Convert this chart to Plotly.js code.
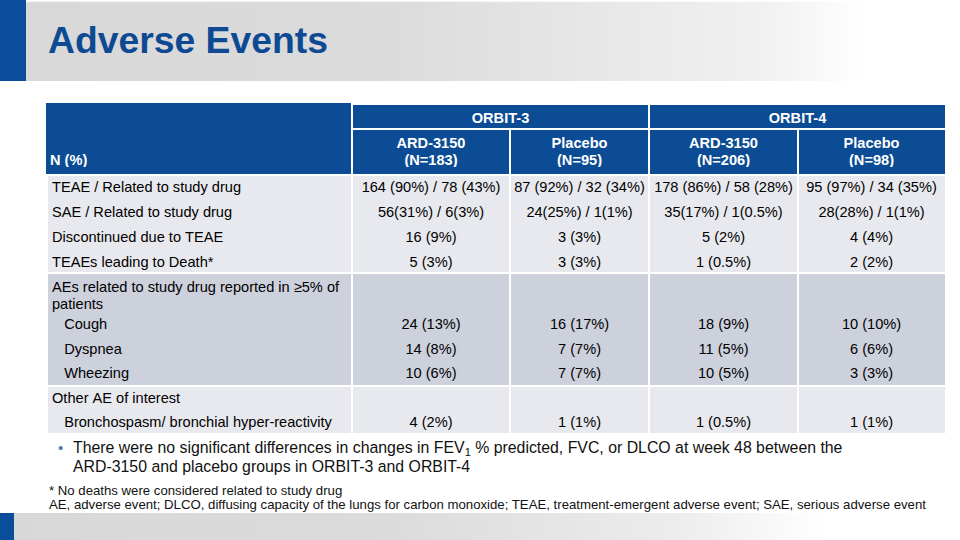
<!DOCTYPE html>
<html>
<head>
<meta charset="utf-8">
<script src="https://cdn.plot.ly/plotly-3.0.1.min.js"></script>
<style>
  html, body { margin: 0; padding: 0; background: #ffffff; }
  #chart { width: 960px; height: 540px; }
</style>
</head>
<body>
<div id="chart"></div>
<script>
// ------------------------------------------------------------------
// DATA
// ------------------------------------------------------------------
const slideTitle = 'Adverse Events';
const studies = ['ORBIT-3', 'ORBIT-4'];
const armNames = ['ARD-3150', 'Placebo', 'ARD-3150', 'Placebo'];
const armCounts = ['(N=183)', '(N=95)', '(N=206)', '(N=98)'];
const stubHeader = 'N (%)';

const rowLabels = [
  'TEAE / Related to study drug',
  'SAE / Related to study drug',
  'Discontinued due to TEAE',
  'TEAEs leading to Death*',
  'AEs related to study drug reported in \u22655% of<br>patients',
  'Cough',
  'Dyspnea',
  'Wheezing',
  'Other AE of interest',
  'Bronchospasm/ bronchial hyper-reactivity'
];
const rowIsSubItem = [false, false, false, false, false, true, true, true, false, true];

const orbit3Ard = ['164 (90%) / 78 (43%)', '56(31%) / 6(3%)', '16 (9%)', '5 (3%)', '', '24 (13%)', '14 (8%)', '10 (6%)', '', '4 (2%)'];
const orbit3Pbo = ['87 (92%) / 32 (34%)', '24(25%) / 1(1%)', '3 (3%)', '3 (3%)', '', '16 (17%)', '7 (7%)', '7 (7%)', '', '1 (1%)'];
const orbit4Ard = ['178 (86%) / 58 (28%)', '35(17%) / 1(0.5%)', '5 (2%)', '1 (0.5%)', '', '18 (9%)', '11 (5%)', '10 (5%)', '', '1 (0.5%)'];
const orbit4Pbo = ['95 (97%) / 34 (35%)', '28(28%) / 1(1%)', '4 (4%)', '2 (2%)', '', '10 (10%)', '6 (6%)', '3 (3%)', '', '1 (1%)'];

const bulletLines = [
  'There were no significant differences in changes in FEV<sub>1</sub> % predicted, FVC, or DLCO at week 48 between the',
  'ARD-3150 and placebo groups in ORBIT-3 and ORBIT-4'
];
const footnotes = [
  '* No deaths were considered related to study drug',
  'AE, adverse event; DLCO, diffusing capacity of the lungs for carbon monoxide; TEAE, treatment-emergent adverse event; SAE, serious adverse event'
];

// ------------------------------------------------------------------
// LAYOUT / STYLE
// ------------------------------------------------------------------
const W = 960, H = 540;
const FONT = 'Liberation Sans, Arial, Helvetica, sans-serif';
const BLUE = '#0b4c94';
const TITLE_BLUE = '#0d4a93';
const BAR_BLUE = '#0a4e9b';
const LIGHT = '#e8e9ee';
const MID = '#cdd1dc';
const CLEAR = 'rgba(0,0,0,0)';
const FS = 14.6;                       // table font size
const DROP = 8 + 0.75 * FS;            // baseline below a row top (plain text)

const colEdges = [48, 352, 510, 649, 798, 945];
const innerW = [];
for (let i = 1; i < colEdges.length - 1; i++) innerW.push(colEdges[i + 1] - colEdges[i]);
// groups of body rows (background blocks)
const groupBlocks = [[175, 273, LIGHT], [273, 386, MID], [386, 434, LIGHT]];
// text blocks: which rows, first baseline, row step
const blockA = { rows: [0, 1, 2, 3, 4], base: 192, step: 25 };
const blockB = { rows: [5, 6, 7, 8, 9], base: 329, step: 24.5 };
const contBase = 308.5;                // continuation line of a wrapped label

const nb = s => String(s).replace(/ /g, '\u00a0');
const indent = '\u00a0\u00a0\u00a0';
const valueCols = [orbit3Ard, orbit3Pbo, orbit4Ard, orbit4Pbo];

function labelLine(i, k) {
  const parts = rowLabels[i].split('<br>');
  return (rowIsSubItem[i] ? indent : '') + nb(parts[k] || '');
}

function table(c) {
  const tot = c.widths.reduce((a, b) => a + b, 0);
  const nRows = (c.cells && c.cells.length) ? c.cells[0].length : 0;
  const bottom = c.top + c.height * (1 + nRows) + (c.extra || 4);
  const common = {
    height: c.height,
    align: c.align,
    fill: { color: c.fill },
    line: { color: c.line, width: c.lineWidth },
    font: c.font
  };
  return {
    type: 'table',
    domain: { x: [c.left / W, Math.min(1, (c.left + tot + 0.01) / W)], y: [Math.max(0, 1 - bottom / H), 1 - c.top / H] },
    columnwidth: c.widths,
    header: Object.assign({ values: c.header }, common),
    cells: Object.assign({ values: c.cells || [] }, common)
  };
}

const headFont = { family: FONT, size: FS, color: '#ffffff', weight: 'bold' };
const bodyFont = { family: FONT, size: FS, color: '#000000' };
const alignCols = ['left', 'center', 'center', 'center', 'center'];
const bgWidths = [colEdges[1] - 47].concat(innerW.slice(0, 3), [946 - colEdges[4]]);

const traces = [];

// header row 1 (study names spanning two arms)
traces.push(table({
  left: 47, top: 104, height: 25,
  widths: [colEdges[1] - 47, colEdges[3] - colEdges[1], 946 - colEdges[3]],
  header: ['', studies[0], studies[1]],
  align: 'center', fill: BLUE, line: [BLUE, '#ffffff', '#ffffff'], lineWidth: 2, font: headFont, extra: 1
}));
// header row 2 background
traces.push(table({
  left: 47, top: 129, height: 46, widths: bgWidths,
  header: ['', '', '', '', ''],
  align: 'center', fill: BLUE, line: [BLUE, '#ffffff', '#ffffff', '#ffffff', '#ffffff'], lineWidth: 2, font: headFont, extra: 1
}));
// body group backgrounds
groupBlocks.forEach(g => {
  traces.push(table({
    left: 47, top: g[0], height: g[1] - g[0], widths: bgWidths,
    header: ['', '', '', '', ''],
    align: 'center', fill: g[2], line: '#ffffff', lineWidth: 2, font: bodyFont, extra: 1
  }));
});

// header texts: arm names, then counts + stub header
const hLeft = 42;
const hWidths = [colEdges[1] - hLeft].concat(innerW);
traces.push(table({
  left: hLeft, top: 147.5 - DROP, height: 17, widths: hWidths,
  header: [''].concat(armNames.map(nb)),
  align: alignCols, fill: CLEAR, line: CLEAR, lineWidth: 0, font: headFont
}));
traces.push(table({
  left: hLeft, top: 165 - DROP, height: 17, widths: hWidths,
  header: [nb(stubHeader)].concat(armCounts.map(nb)),
  align: alignCols, fill: CLEAR, line: CLEAR, lineWidth: 0, font: headFont
}));

// body texts
const bLeft = 44;
const bWidths = [colEdges[1] - bLeft].concat(innerW);
function blockTable(block) {
  const cols = [block.rows.map(i => labelLine(i, 0))].concat(valueCols.map(v => block.rows.map(i => nb(v[i]))));
  return table({
    left: bLeft, top: block.base - DROP, height: block.step, widths: bWidths,
    header: cols.map(c => c[0]),
    cells: cols.map(c => c.slice(1)),
    align: alignCols, fill: CLEAR, line: CLEAR, lineWidth: 0, font: bodyFont
  });
}
traces.push(blockTable(blockA));
// continuation line of the wrapped label
traces.push(table({
  left: bLeft, top: contBase - DROP, height: 20, widths: bWidths,
  header: [labelLine(4, 1), '', '', '', ''],
  align: alignCols, fill: CLEAR, line: CLEAR, lineWidth: 0, font: bodyFont
}));
traces.push(blockTable(blockB));

// ------------------------------------------------------------------
// slide decoration
// ------------------------------------------------------------------
function gradSvg(w, h, stops) {
  const s = stops.map(p => "<stop offset='" + p[0] + "' stop-color='" + p[1] + "'/>").join('');
  const svg = "<svg xmlns='http://www.w3.org/2000/svg' width='" + w + "' height='" + h + "' viewBox='0 0 " + w + " " + h +
    "' preserveAspectRatio='none'><defs><linearGradient id='g' x1='0' y1='0' x2='1' y2='0'>" + s +
    "</linearGradient></defs><rect width='" + w + "' height='" + h + "' fill='url(#g)'/></svg>";
  return 'data:image/svg+xml;charset=utf-8,' + encodeURIComponent(svg);
}
const images = [
  { source: gradSvg(960, 80, [[0, '#d8d8d8'], [0.4, '#dbdbdb'], [0.8, '#f1f1f1'], [0.9, '#ffffff'], [1, '#ffffff']]),
    xref: 'paper', yref: 'paper', x: 0, y: 1 - 1.5 / H, sizex: 1, sizey: 79.5 / H,
    xanchor: 'left', yanchor: 'top', sizing: 'stretch', layer: 'below' },
  { source: gradSvg(960, 27, [[0, '#d8d8d8'], [0.4, '#dbdbdb'], [0.7, '#ececec'], [0.86, '#ffffff'], [1, '#ffffff']]),
    xref: 'paper', yref: 'paper', x: 0, y: 1 - 513 / H, sizex: 1, sizey: 27 / H,
    xanchor: 'left', yanchor: 'top', sizing: 'stretch', layer: 'below' }
];
const shapes = [
  { type: 'rect', xref: 'paper', yref: 'paper', x0: 0, x1: 26 / W, y0: 1 - 81 / H, y1: 1, fillcolor: BAR_BLUE, line: { width: 0 }, layer: 'above' },
  { type: 'rect', xref: 'paper', yref: 'paper', x0: 0, x1: 14 / W, y0: 0, y1: 1 - 513 / H, fillcolor: BAR_BLUE, line: { width: 0 }, layer: 'above' }
];

function note(text, x, y, size, color, extra) {
  return Object.assign({
    xref: 'paper', yref: 'paper', x: x / W, y: 1 - y / H, xanchor: 'left', yanchor: 'middle',
    showarrow: false, align: 'left', text: text,
    font: { family: FONT, size: size, color: color }
  }, extra || {});
}
const annotations = [
  note(slideTitle, 45.5, 40, 37.3, TITLE_BLUE, { font: { family: FONT, size: 37.3, color: TITLE_BLUE, weight: 'bold' } }),
  note('\u2022', 56, 447.5, 15, '#5a78aa'),
  note(bulletLines[0], 71, 448, 15.85, '#111111'),
  note(bulletLines[1], 71, 466.5, 15.85, '#111111'),
  note(footnotes[0], 46.5, 490.5, 13.2, '#111111'),
  note(footnotes[1], 46.5, 504.5, 13.2, '#111111')
];

const layout = {
  width: W, height: H,
  margin: { l: 0, r: 0, t: 0, b: 0, pad: 0 },
  paper_bgcolor: '#ffffff', plot_bgcolor: '#ffffff',
  showlegend: false,
  images: images, shapes: shapes, annotations: annotations
};

Plotly.newPlot('chart', traces, layout, { displayModeBar: false, staticPlot: true });
</script>
</body>
</html>
